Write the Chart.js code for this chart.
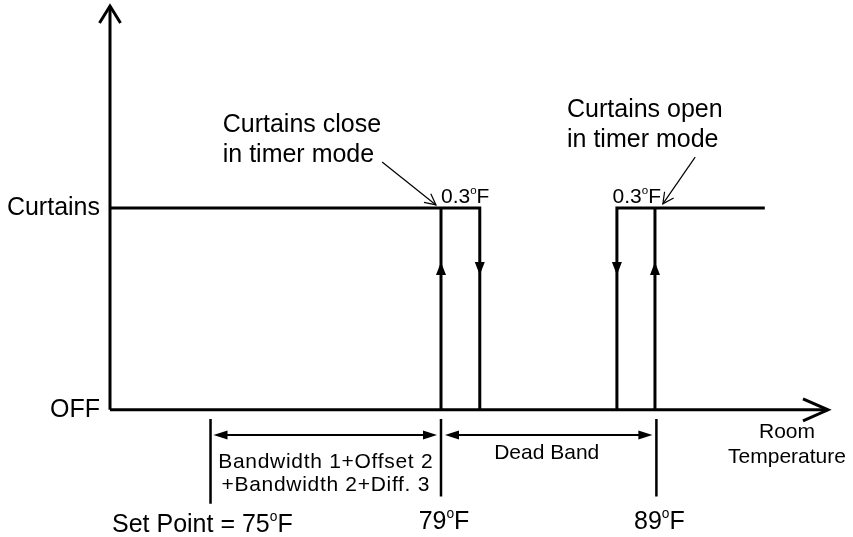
<!DOCTYPE html>
<html>
<head>
<meta charset="utf-8">
<script src="https://cdn.jsdelivr.net/npm/chart.js@4.4.1/dist/chart.umd.min.js"></script>
<style>
  html, body { margin: 0; padding: 0; background: #fff; }
  canvas { display: block; }
</style>
</head>
<body>
<canvas id="grafico" width="853" height="537"></canvas>
<script>
// x = schematic position along the room temperature axis (0..100), y = output level
const levelLabels = ['OFF', 'Curtains'];
const levelValues = [0, 1];
const switchPoints = [46.1, 51.5, 70.6, 75.9]; // close on rise, close release, open release, open on rise
const lineEnd = 91.2;
const tickPos = [14, 46.1, 76.1];
const tickLabels = ['Set Point = 75ºF', '79ºF', '89ºF'];
const bandLabels = [['Bandwidth 1+Offset 2', '+Bandwidth 2+Diff. 3'], ['Dead Band']];
const hystLabel = '0.3ºF';
const calloutLabels = [['Curtains close', 'in timer mode'], ['Curtains open', 'in timer mode']];
const axisLabel = ['Room', 'Temperature'];

const OFF = levelValues[0], ON = levelValues[1];
const FONT = '"Liberation Sans", Arial, sans-serif';

function seg(points, width) {
    return {
        data: points.map(p => ({ x: p[0], y: p[1] })),
        showLine: true,
        borderColor: '#000',
        borderWidth: width || 3,
        borderJoinStyle: 'miter',
        borderCapStyle: 'butt',
        pointRadius: 0,
        tension: 0,
        fill: false,
        clip: false
    };
}

let datasets = [
    seg([[0, OFF], [0, 2]]),               // y axis
    seg([[0, OFF], [100, OFF]]),           // x axis
    seg([[0, ON], [switchPoints[1], ON], [switchPoints[1], OFF]]),
    seg([[switchPoints[0], OFF], [switchPoints[0], ON]]),
    seg([[switchPoints[2], OFF], [switchPoints[2], ON], [lineEnd, ON]]),
    seg([[switchPoints[3], OFF], [switchPoints[3], ON]])
];
tickPos.forEach((p, i) => datasets.push(seg([[p, -0.045], [p, i === 0 ? -0.465 : -0.43]], 2.5)));

// filled triangle, centred on (cx, cy), pointing along (dx, dy)
function tri(ctx, cx, cy, dx, dy, len, half) {
    len = len || 13; half = half || 5;
    const tx = cx + dx * len / 2, ty = cy + dy * len / 2;
    const bx = cx - dx * len / 2, by = cy - dy * len / 2;
    ctx.beginPath();
    ctx.moveTo(tx, ty);
    ctx.lineTo(bx - dy * half, by + dx * half);
    ctx.lineTo(bx + dy * half, by - dx * half);
    ctx.closePath();
    ctx.fill();
}

// open arrowhead with the tip at (tx, ty)
function chevron(ctx, tx, ty, dx, dy, len, half, lw) {
    const bx = tx - dx * len, by = ty - dy * len;
    ctx.lineWidth = lw;
    ctx.lineJoin = 'miter';
    ctx.beginPath();
    ctx.moveTo(bx - dy * half, by + dx * half);
    ctx.lineTo(tx, ty);
    ctx.lineTo(bx + dy * half, by - dx * half);
    ctx.stroke();
}

function doubleArrow(ctx, x1, x2, y) {
    ctx.lineWidth = 2;
    ctx.beginPath();
    ctx.moveTo(x1 + 8, y);
    ctx.lineTo(x2 - 8, y);
    ctx.stroke();
    tri(ctx, x1 + 7, y, -1, 0, 14, 4.5);
    tri(ctx, x2 - 7, y, 1, 0, 14, 4.5);
}

function pointer(ctx, x1, y1, x2, y2) {
    ctx.lineWidth = 1.2;
    ctx.beginPath();
    ctx.moveTo(x1, y1);
    ctx.lineTo(x2, y2);
    ctx.stroke();
    const l = Math.hypot(x2 - x1, y2 - y1);
    chevron(ctx, x2, y2, (x2 - x1) / l, (y2 - y1) / l, 11, 5.5, 1.2);
}

// text with the "º" drawn as a small raised o
function richText(ctx, str, x, y, size, align, spacing) {
    ctx.letterSpacing = (spacing || 0) + 'px';
    const parts = str.split('º');
    const sup = size * 0.55;
    ctx.font = size + 'px ' + FONT;
    const widths = parts.map(p => ctx.measureText(p).width);
    ctx.font = sup + 'px ' + FONT;
    const ow = ctx.measureText('o').width;
    const total = widths.reduce((a, b) => a + b, 0) + ow * (parts.length - 1);
    let cx = align === 'center' ? x - total / 2 : align === 'right' ? x - total : x;
    ctx.textAlign = 'left';
    ctx.textBaseline = 'alphabetic';
    parts.forEach((p, i) => {
        ctx.font = size + 'px ' + FONT;
        ctx.fillText(p, cx, y);
        cx += widths[i];
        if (i < parts.length - 1) {
            ctx.font = sup + 'px ' + FONT;
            ctx.fillText('o', cx, y - size * 0.42);
            cx += ow;
        }
    });
    ctx.letterSpacing = '0px';
}

const diagram = {
    id: 'diagram',
    afterDatasetsDraw(chart) {
        const ctx = chart.ctx;
        const X = v => chart.scales.x.getPixelForValue(v);
        const Y = v => chart.scales.y.getPixelForValue(v);
        ctx.save();
        ctx.fillStyle = '#000';
        ctx.strokeStyle = '#000';

        // axis arrowheads
        chevron(ctx, X(0), Y(2), 0, -1, 17, 10.5, 3);
        chevron(ctx, X(100), Y(0), 1, 0, 25, 11, 3);

        // direction arrows on the switching lines
        const mid = Y(0.7);
        tri(ctx, X(switchPoints[0]), mid, 0, -1);
        tri(ctx, X(switchPoints[1]), mid, 0, 1);
        tri(ctx, X(switchPoints[2]), mid, 0, 1);
        tri(ctx, X(switchPoints[3]), mid, 0, -1);

        // level labels
        levelLabels.forEach((t, i) => richText(ctx, t, X(0) - 10, Y(levelValues[i]) + 7, 25, 'right'));

        // hysteresis labels
        richText(ctx, hystLabel, X(switchPoints[0]), Y(ON) - 5, 21, 'left');
        richText(ctx, hystLabel, X(switchPoints[3]) + 6, Y(ON) - 5, 21, 'right');

        // callouts
        calloutLabels[0].forEach((t, i) => richText(ctx, t, X(15.7), Y(1.376) + i * 30, 25, 'left'));
        calloutLabels[1].forEach((t, i) => richText(ctx, t, X(63.65), Y(1.45) + i * 30, 25, 'left'));
        pointer(ctx, X(37.9), Y(1.228), X(45.4), Y(1.015));
        pointer(ctx, X(81.5), Y(1.252), X(77.0), Y(1.02));

        // bands under the axis
        const ay = Y(-0.125);
        doubleArrow(ctx, X(tickPos[0]) + 3, X(tickPos[1]) - 4, ay);
        doubleArrow(ctx, X(tickPos[1]) + 4, X(tickPos[2]) - 4, ay);
        const c1 = (X(tickPos[0]) + X(tickPos[1])) / 2;
        const c2 = (X(tickPos[1]) + X(tickPos[2])) / 2 - 2;
        bandLabels[0].forEach((t, i) => richText(ctx, t, c1, ay + 33 + i * 23, 21, 'center', 0.7));
        richText(ctx, bandLabels[1][0], c2, ay + 24, 21, 'center', 0);

        // axis title
        axisLabel.forEach((t, i) => richText(ctx, t, X(100) - 41, Y(0) + 28 + i * 25, 21, 'center', 0));

        // temperature labels
        tickLabels.forEach((t, i) => {
            if (i === 0) richText(ctx, t, X(0) + 2, Y(0) + 122, 25, 'left');
            else richText(ctx, t, X(tickPos[i]) + 3, Y(0) + 119, 25, 'center');
        });

        ctx.restore();
    }
};

const ctx = document.getElementById('grafico').getContext('2d');
let grafico = new Chart(ctx, {
    type: 'scatter',
    data: { datasets: datasets },
    options: {
        responsive: false,
        animation: false,
        layout: { padding: { left: 110, right: 25, top: 0, bottom: 0 } },
        plugins: {
            legend: { display: false },
            tooltip: { enabled: false }
        },
        scales: {
            x: { type: 'linear', min: 0, max: 100, display: false },
            y: { type: 'linear', min: -0.63, max: 2.03, display: false }
        }
    },
    plugins: [diagram]
});
</script>
</body>
</html>
